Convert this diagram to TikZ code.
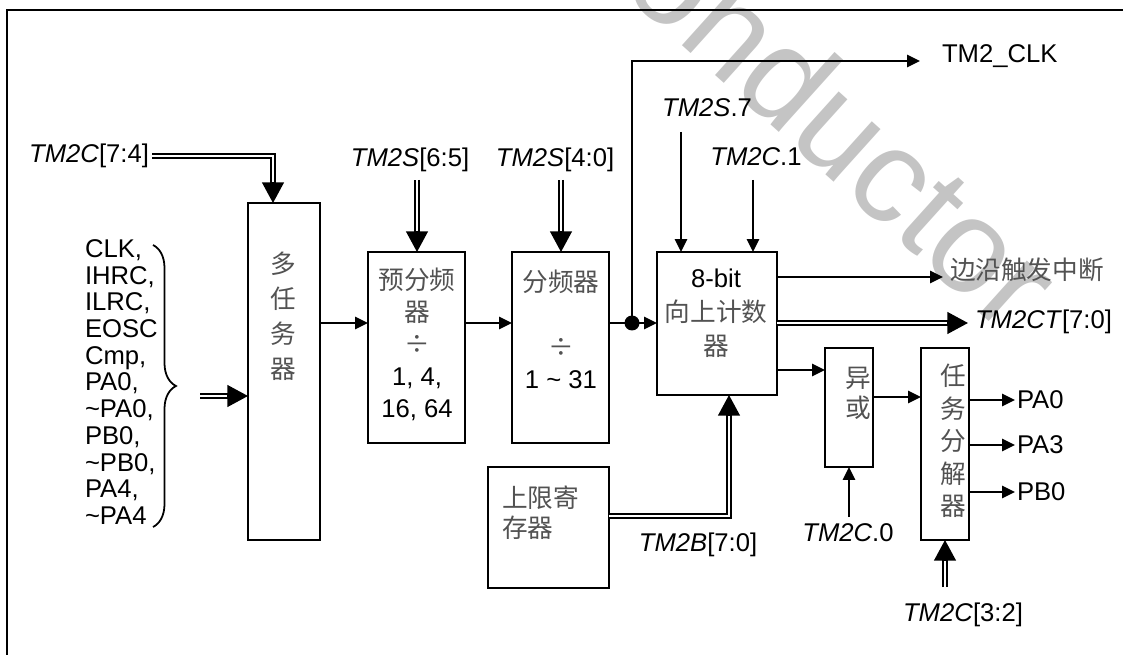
\documentclass[tikz,border=0pt]{standalone}
\usepackage{fontspec}
\setmainfont{Liberation Sans}
\newfontfamily\cjk{Noto Sans CJK SC}
\usetikzlibrary{arrows.meta,calc,decorations.pathreplacing}
\begin{document}
\begin{tikzpicture}[x=0.02cm,y=-0.02cm,
  lw/.style={line width=1.3pt},
  box/.style={draw,line width=1.3pt,inner sep=0pt,outer sep=0pt},
  lbl/.style={inner sep=0pt,outer sep=0pt,font=\fontsize{14.6}{15.2}\selectfont},
  cn/.style={inner sep=0pt,outer sep=0pt,text=black!68},
  sarr/.style={line width=1.3pt,-{Triangle[length=7.4pt,width=7pt]}},
  dbl/.style={line width=1.2pt,double,double distance=1.4pt},
  dhead/.style={line width=1.2pt,-{Triangle[length=11.8pt,width=12.4pt]}},
]
\useasboundingbox (0,0) rectangle (1123,655);
\clip (0,0) rectangle (1123,655);

% watermark
\node[rotate=-42,text=black!23,inner sep=0pt,font=\fontsize{76}{76}\selectfont] (wm) at (845,128) {onductor};

% frame
\draw[lw] (7,700) -- (7,10) -- (1200,10);

% boxes
\node[box,minimum width=1.44cm,minimum height=6.74cm] (mux) at (284,371.5) {};
\node[box,minimum width=1.94cm,minimum height=3.82cm] (pre) at (416.5,347.5) {};
\node[box,minimum width=1.94cm,minimum height=3.82cm] (div) at (560.5,347.5) {};
\node[box,minimum width=2.40cm,minimum height=2.86cm] (cnt) at (717,323.5) {};
\node[box,minimum width=2.42cm,minimum height=2.42cm] (reg) at (548.5,527.5) {};
\node[box,minimum width=0.96cm,minimum height=2.38cm] (xor) at (849,407.5) {};
\node[box,minimum width=0.96cm,minimum height=3.84cm] (dec) at (945,444) {};

% box texts
\node[cn,align=center,font=\fontsize{14.6}{19.9}\selectfont\cjk] (muxt) at (283,316) {多\\任\\务\\器};
\node[cn,align=center,font=\fontsize{14.6}{18.2}\selectfont\cjk] (pret) at (417,344)
  {预分频\\器\\÷\\{\rmfamily\color{black}1, 4,}\\{\rmfamily\color{black}16, 64}};
\node[cn,align=center,font=\fontsize{14.6}{18.4}\selectfont\cjk] (divt) at (561,329.5)
  {分频器\\\mbox{}\\÷\\{\rmfamily\color{black}1 \textasciitilde{} 31}};
\node[cn,align=center,font=\fontsize{14.6}{19.3}\selectfont\cjk] (cntt) at (716,313)
  {{\rmfamily\color{black}8-bit}\\向上计数\\器};
\node[cn,align=left,anchor=west,font=\fontsize{14.6}{17}\selectfont\cjk] (regt) at (502,513) {上限寄\\存器};
\node[cn,align=center,font=\fontsize{14.6}{17}\selectfont\cjk] (xort) at (858,393) {异\\或};
\node[cn,align=center,font=\fontsize{14.6}{18.5}\selectfont\cjk] (dect) at (953,441) {任\\务\\分\\解\\器};

% labels
\node[lbl,anchor=east] (c74) at (149,156) {\textit{TM2C}[7:4]};
\node[lbl,align=left,anchor=west] (src) at (85,382)
  {CLK,\\IHRC,\\ILRC,\\EOSC\\Cmp,\\PA0,\\\textasciitilde PA0,\\PB0,\\\textasciitilde PB0,\\PA4,\\\textasciitilde PA4};
\node[lbl] (s65) at (410,160) {\textit{TM2S}[6:5]};
\node[lbl] (s40) at (555,160) {\textit{TM2S}[4:0]};
\node[lbl] (s7) at (707,108) {\textit{TM2S}.7};
\node[lbl] (c1) at (756,157) {\textit{TM2C}.1};
\node[lbl,anchor=base west] (clk) at (942,63) {TM2\_CLK};
\node[lbl,anchor=west,font=\fontsize{14.6}{15.2}\selectfont\cjk,text=black!68] (eint) at (950,270) {边沿触发中断};
\node[lbl,anchor=west] (ct) at (975,322) {\textit{TM2CT}[7:0]};
\node[lbl,anchor=west] (pa0) at (1017,400) {PA0};
\node[lbl,anchor=west] (pa3) at (1017,445) {PA3};
\node[lbl,anchor=west] (pb0) at (1017,492) {PB0};
\node[lbl] (c0) at (848,533) {\textit{TM2C}.0};
\node[lbl] (c32) at (963,615) {\textit{TM2C}[3:2]};
\node[lbl] (b70) at (698,545) {\textit{TM2B}[7:0]};

% brace and input bus
\draw[line width=1pt,decorate,decoration={brace,amplitude=0.46cm,aspect=0.5}] (153,245) -- (153,527);
\coordinate (busin) at (200,396);
\draw[dbl] (busin) -- ($(mux.west |- busin)+(-19,0)$);
\draw[dhead] ($(mux.west |- busin)+(-21,0)$) -- (mux.west |- busin);

% TM2C[7:4] -> mux
\coordinate (c74k) at (273,156);
\draw[dbl] ($(c74.east)+(3,0)$) -- (c74k) -- ($(mux.north -| c74k)+(0,-19)$);
\draw[dhead] ($(mux.north -| c74k)+(0,-21)$) -- (mux.north -| c74k);

% main chain
\coordinate (r323) at (0,323);
\draw[sarr] (mux.east |- r323) -- (pre.west |- r323);
\draw[sarr] (pre.east |- r323) -- (div.west |- r323);
\node[circle,fill,inner sep=0pt,minimum size=0.3cm] (dot) at (632,323) {};
\draw[lw] (div.east |- r323) -- (dot.center);
\draw[sarr] (dot.center) -- (cnt.west |- r323);
\coordinate (clkend) at (920,61);
\draw[sarr] (dot.center) |- (clkend);

% selectors into prescaler/divider
\coordinate (a65) at (417,180);
\draw[dbl] (a65) -- ($(pre.north -| a65)+(0,-19)$);
\draw[dhead] ($(pre.north -| a65)+(0,-21)$) -- (pre.north -| a65);
\coordinate (a40) at (561,180);
\draw[dbl] (a40) -- ($(div.north -| a40)+(0,-19)$);
\draw[dhead] ($(div.north -| a40)+(0,-21)$) -- (div.north -| a40);

% counter controls
\coordinate (a7) at (681,132);
\draw[sarr] (a7) -- (cnt.north -| a7);
\coordinate (a1) at (753,180);
\draw[sarr] (a1) -- (cnt.north -| a1);

% counter outputs
\coordinate (eintend) at (943,277);
\draw[sarr] (cnt.east |- eintend) -- (eintend);
\coordinate (ctend) at (968,323);
\draw[dbl] (cnt.east |- ctend) -- ($(ctend)+(-19,0)$);
\draw[dhead] ($(ctend)+(-21,0)$) -- (ctend);
\coordinate (r370) at (0,370);
\draw[sarr] (cnt.east |- r370) -- (xor.west |- r370);

% upper limit register -> counter
\coordinate (bk) at (729,516);
\draw[dbl] (reg.east |- bk) -- (bk) -- ($(cnt.south -| bk)+(0,19)$);
\draw[dhead] ($(cnt.south -| bk)+(0,21)$) -- (cnt.south -| bk);

% xor and decomposer
\coordinate (a0) at (849,517);
\draw[sarr] (a0) -- (xor.south);
\coordinate (r397) at (0,397);
\draw[sarr] (xor.east |- r397) -- (dec.west |- r397);
\coordinate (o1) at (1015,400);
\coordinate (o2) at (1015,445);
\coordinate (o3) at (1015,492);
\draw[sarr] (dec.east |- o1) -- (o1);
\draw[sarr] (dec.east |- o2) -- (o2);
\draw[sarr] (dec.east |- o3) -- (o3);
\coordinate (a32) at (945,587);
\draw[dbl] (a32) -- ($(dec.south -| a32)+(0,19)$);
\draw[dhead] ($(dec.south -| a32)+(0,21)$) -- (dec.south -| a32);
\end{tikzpicture}
\end{document}
